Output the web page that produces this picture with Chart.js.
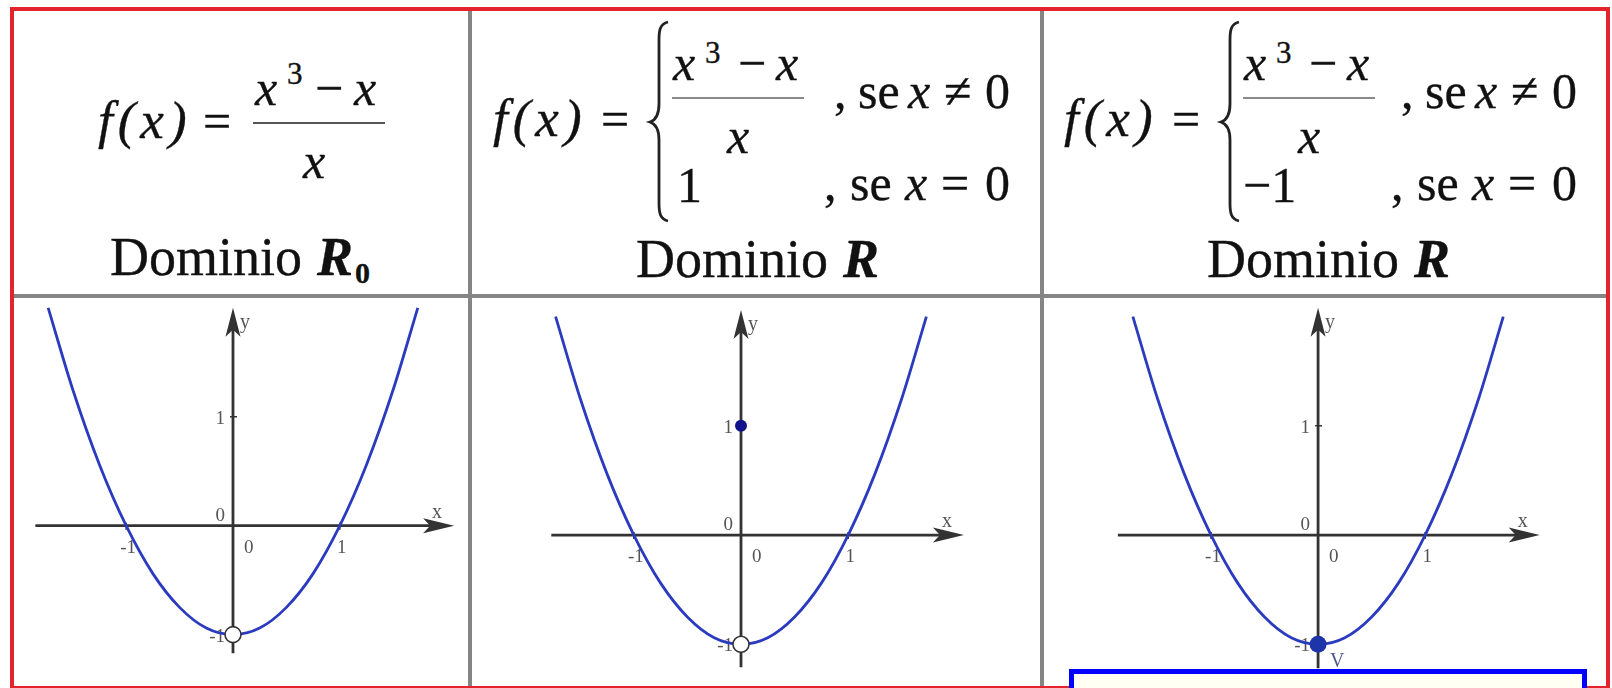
<!DOCTYPE html>
<html>
<head>
<meta charset="utf-8">
<title>f(x) = (x³ − x)/x</title>
<script src="https://cdn.jsdelivr.net/npm/chart.js@4.4.0/dist/chart.umd.min.js"></script>
<style>
  html, body { margin: 0; padding: 0; background: #fff; }
  body { width: 1612px; height: 688px; position: relative; overflow: hidden;
         font-family: "Liberation Serif", "DejaVu Serif", serif; color: #111; }
  .frame { position: absolute; left: 10px; top: 7px; width: 1600px; height: 683px;
           border: 4px solid #e4242b; box-sizing: border-box; z-index: 3; }
  .rule { position: absolute; background: #858585; z-index: 2; }
  .bar { position: absolute; height: 2px; }
  .t { position: absolute; white-space: pre; line-height: 1;
       font-family: "Liberation Serif", "DejaVu Serif", serif; -webkit-text-stroke: 0.35px #111; }
  .plot { position: absolute; top: 298px; }
  .note { position: absolute; left: 1069px; top: 669px; width: 518px; height: 40px;
          border: 5px solid #0000ff; background: #fffff4; box-sizing: border-box; z-index: 4; }
  svg.braces { position: absolute; left: 0; top: 0; }
</style>
</head>
<body>
<div class="frame"></div>
<div class="rule" style="left:468px; top:11px; width:4px; height:677px"></div>
<div class="rule" style="left:1040px; top:11px; width:4px; height:677px"></div>
<div class="rule" style="left:14px; top:294px; width:1592px; height:4px"></div>

<div class="bar" style="left:253px; top:122px; width:132px; background:#555"></div>
<div class="bar" style="left:672px; top:97px; width:132px; background:#8a8a8a"></div>
<div class="bar" style="left:1243px; top:97px; width:132px; background:#8a8a8a"></div>

<svg class="braces" width="1612" height="300">
  <g fill="none" stroke="#222" stroke-width="2.8">
    <path d="M668 22 C660 24 659 30 659 40 L659 104 C659 114 656 120 650 122 C656 124 659 130 659 140 L659 203 C659 213 660 219 668 221"/>
    <path transform="translate(571 0)" d="M668 22 C660 24 659 30 659 40 L659 104 C659 114 656 120 650 122 C656 124 659 130 659 140 L659 203 C659 213 660 219 668 221"/>
  </g>
</svg>

<canvas id="p1" class="plot" width="454" height="390" style="left:14px"></canvas>
<canvas id="p2" class="plot" width="568" height="390" style="left:472px"></canvas>
<canvas id="p3" class="plot" width="561" height="390" style="left:1044px"></canvas>

<div class="note"></div>

<script>
// sampled points of the parabola shown in each panel
const curveX = [-1.73, -1.5, -1.25, -1, -0.75, -0.5, -0.25, 0, 0.25, 0.5, 0.75, 1, 1.25, 1.5, 1.73];
const curveY = [2.0, 1.25, 0.56, 0, -0.44, -0.75, -0.94, -1, -0.94, -0.75, -0.44, 0, 0.56, 1.25, 2.0];
const xTicks = [-1, 0, 1];
const yTicks = [-1, 0, 1];
// value at x = 0 for each panel: hole (open circle) and defined point (filled)
const holeY = [-1, -1, null];
const filledY = [null, 1, -1];
const pointNames = ['', '', 'V'];

// ---- header formulas ----
function put(x, base, size, text, extra) {
  const s = document.createElement('span');
  s.className = 't';
  s.textContent = text;
  s.style.left = x + 'px';
  s.style.top = (base - 0.8375 * size) + 'px';
  s.style.fontSize = size + 'px';
  if (extra) Object.assign(s.style, extra);
  document.body.appendChild(s);
}
const it = { fontStyle: 'italic' };
const fx = { fontStyle: 'italic', letterSpacing: '5px' };

// first column
put(98, 138, 53, 'f(x)', fx);
put(203, 138, 50, '=');
put(255, 105, 50, 'x', it);
put(287, 84, 31, '3');
put(315, 105, 50, '\u2212');
put(354, 105, 50, 'x', it);
put(303, 178, 50, 'x', it);
put(110, 275, 54, 'Dominio ');
put(317, 275, 54, 'R', { fontStyle: 'italic', fontWeight: 'bold' });
put(355, 283, 30, '0', { fontWeight: 'bold' });

// second and third column
[0, 571].forEach((dx, k) => {
  put(493 + dx, 136, 53, 'f(x)', fx);
  put(601 + dx, 136, 50, '=');
  put(673 + dx, 80, 50, 'x', it);
  put(705 + dx, 63, 31, '3');
  put(738 + dx, 80, 50, '\u2212');
  put(776 + dx, 80, 50, 'x', it);
  put(727 + dx, 153, 50, 'x', it);
  if (k === 0) put(677, 202, 50, '1');
  else put(1243, 202, 50, '\u22121');
  const rx = k === 0 ? 0 : 567;
  put(834 + rx, 108, 50, ',');
  put(858 + rx, 108, 50, 'se');
  put(908 + rx, 108, 50, 'x', it);
  put(944 + rx, 108, 50, '\u2260');
  put(985 + rx, 108, 50, '0');
  put(824 + rx, 200, 50, ',');
  put(850 + rx, 200, 50, 'se');
  put(905 + rx, 200, 50, 'x', it);
  put(941 + rx, 200, 50, '=');
  put(985 + rx, 200, 50, '0');
  put(636 + dx, 277, 54, 'Dominio ');
  put(843 + dx, 277, 54, 'R', { fontStyle: 'italic', fontWeight: 'bold' });
});

// ---- graphs ----
const axesPlugin = {
  id: 'axes',
  beforeDatasetsDraw(chart, args, o) {
    const { ctx, scales: { x, y } } = chart;
    const ox = x.getPixelForValue(0), oy = y.getPixelForValue(0);
    const x0 = x.getPixelForValue(o.xAxis[0]), x1 = x.getPixelForValue(o.xAxis[1]);
    const y0 = y.getPixelForValue(o.yAxis[0]), y1 = y.getPixelForValue(o.yAxis[1]);
    ctx.save();
    ctx.strokeStyle = '#333';
    ctx.fillStyle = '#333';
    ctx.lineWidth = 2.8;
    ctx.beginPath();
    ctx.moveTo(x0, oy); ctx.lineTo(x1 - 20, oy);
    ctx.moveTo(ox, y0); ctx.lineTo(ox, y1 + 20);
    ctx.stroke();
    // arrow heads
    ctx.beginPath();
    ctx.moveTo(x1, oy); ctx.lineTo(x1 - 31, oy - 7.5); ctx.lineTo(x1 - 24, oy); ctx.lineTo(x1 - 31, oy + 7.5);
    ctx.closePath();
    ctx.moveTo(ox, y1); ctx.lineTo(ox - 7.5, y1 + 29); ctx.lineTo(ox, y1 + 22); ctx.lineTo(ox + 7.5, y1 + 29);
    ctx.closePath();
    ctx.fill();
    // tick marks
    ctx.lineWidth = 1.6;
    ctx.beginPath();
    xTicks.forEach(v => {
      if (v === 0) return;
      const px = x.getPixelForValue(v);
      ctx.moveTo(px, oy - 3); ctx.lineTo(px, oy + 4);
    });
    yTicks.forEach(v => {
      if (v === 0) return;
      const py = y.getPixelForValue(v);
      ctx.moveTo(ox - 3, py); ctx.lineTo(ox + 4, py);
    });
    ctx.stroke();
    // tick labels
    ctx.font = '19px "Liberation Serif"';
    ctx.fillStyle = '#555';
    xTicks.forEach(v => {
      const px = x.getPixelForValue(v);
      if (v === 0) { ctx.textAlign = 'left'; ctx.fillText('0', ox + 11, oy + 27); }
      else { ctx.textAlign = 'center'; ctx.fillText(String(v), px + 2, oy + 27); }
    });
    ctx.textAlign = 'right';
    yTicks.forEach(v => {
      const py = y.getPixelForValue(v);
      ctx.fillText(String(v), ox - 8, v === 0 ? oy - 5 : py + 7);
    });
    ctx.textAlign = 'left';
    ctx.font = '20px "Liberation Serif"';
    ctx.fillText('x', x1 - 22, oy - 8);
    ctx.fillText('y', ox + 7, y1 + 20);
    ctx.restore();
  },
  afterDatasetsDraw(chart, args, o) {
    if (!o.name) return;
    const { ctx, scales: { x, y } } = chart;
    ctx.save();
    ctx.font = '20px "Liberation Serif"';
    ctx.fillStyle = '#4d5b8c';
    ctx.fillText(o.name, x.getPixelForValue(0) + 12, y.getPixelForValue(o.nameY) + 23);
    ctx.restore();
  }
};

const panels = [
  { id: 'p1', x: [-2.05, 2.2], y: [-1.49, 2.09], xAxis: [-1.85, 2.07], yAxis: [-1.17, 2.0], dot: '#12128a', r: 6 },
  { id: 'p2', x: [-2.51, 2.79], y: [-1.4, 2.17], xAxis: [-1.77, 2.08], yAxis: [-1.21, 2.06], dot: '#12128a', r: 6 },
  { id: 'p3', x: [-2.56, 2.68], y: [-1.4, 2.17], xAxis: [-1.87, 2.07], yAxis: [-1.22, 2.08], dot: '#1d35a8', r: 8.5 }
];

panels.forEach((p, i) => {
  const datasets = [{
    data: curveX.map((x, k) => ({ x, y: curveY[k] })),
    showLine: true,
    borderColor: '#2b3bbf',
    borderWidth: 2.8,
    pointRadius: 0,
    cubicInterpolationMode: 'monotone',
    order: 2
  }];
  if (holeY[i] !== null) datasets.push({
    data: [{ x: 0, y: holeY[i] }],
    pointRadius: 8,
    pointBackgroundColor: '#fff',
    pointBorderColor: '#333',
    pointBorderWidth: 1.6,
    order: 1
  });
  if (filledY[i] !== null) datasets.push({
    data: [{ x: 0, y: filledY[i] }],
    pointRadius: p.r,
    pointBackgroundColor: p.dot,
    pointBorderColor: p.dot,
    pointBorderWidth: 0,
    order: 0
  });

  new Chart(document.getElementById(p.id), {
    type: 'scatter',
    data: { datasets },
    options: {
      responsive: false,
      animation: false,
      events: [],
      // keep the plot area on the full canvas so the axes land on the cell grid
      layout: { autoPadding: false, padding: 0 },
      plugins: {
        legend: { display: false },
        tooltip: { enabled: false },
        axes: { xAxis: p.xAxis, yAxis: p.yAxis, name: pointNames[i], nameY: filledY[i] }
      },
      scales: {
        x: { type: 'linear', display: false, min: p.x[0], max: p.x[1] },
        y: { type: 'linear', display: false, min: p.y[0], max: p.y[1] }
      }
    },
    plugins: [axesPlugin]
  });
});
</script>
</body>
</html>
